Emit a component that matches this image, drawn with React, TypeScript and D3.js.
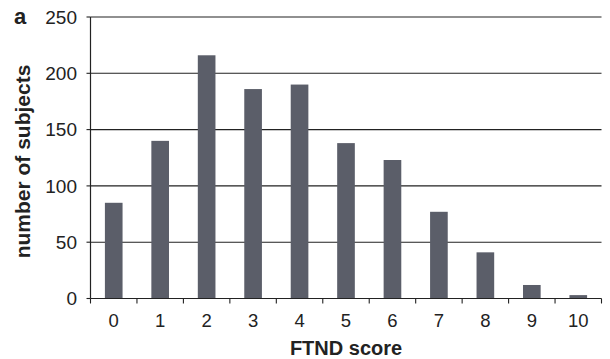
import React from "react";
import * as d3 from "d3";

// FTND score distribution
const scores: string[] = ["0", "1", "2", "3", "4", "5", "6", "7", "8", "9", "10"];
const subjects: number[] = [85, 140, 216, 186, 190, 138, 123, 77, 41, 12, 3];
const yTicks: number[] = [0, 50, 100, 150, 200, 250];

const W = 610;
const H = 359;
const margin = { left: 90.5, right: 8.5, top: 17, bottom: 60.5 };

export default function App() {
  const x = d3
    .scaleBand<string>()
    .domain(scores)
    .range([margin.left, W - margin.right])
    .paddingInner(0.62)
    .paddingOuter(0.31);
  const y = d3
    .scaleLinear()
    .domain([0, 250])
    .range([H - margin.bottom, margin.top]);

  const step = x.step();
  const boundaries = d3.range(scores.length + 1).map((i) => margin.left + i * step);
  const x0 = margin.left;
  const x1 = W - margin.right;
  const yBase = y(0);

  const font = "'Liberation Sans', Arial, Helvetica, sans-serif";
  const ink = "#222";

  return (
    <svg
      width={W}
      height={H}
      style={{ position: "absolute", left: 0, top: 0, background: "#fff" }}
      fontFamily={font}
    >
      {/* horizontal grid lines */}
      {yTicks
        .filter((t) => t > 0)
        .map((t) => (
          <line key={t} x1={x0} x2={x1} y1={y(t)} y2={y(t)} stroke={ink} strokeWidth={1.1} />
        ))}

      {/* bars */}
      {subjects.map((v, i) => (
        <rect
          key={scores[i]}
          x={x(scores[i])}
          y={y(v)}
          width={x.bandwidth()}
          height={yBase - y(v)}
          fill="#5b5e69"
        />
      ))}

      {/* y axis */}
      <line x1={x0} x2={x0} y1={y(250)} y2={yBase} stroke={ink} strokeWidth={1.2} />
      {yTicks.map((t) => (
        <g key={t}>
          <line x1={x0 - 4} x2={x0} y1={y(t)} y2={y(t)} stroke={ink} strokeWidth={1.1} />
          <text
            x={77}
            y={y(t)}
            dy="0.36em"
            textAnchor="end"
            fontSize={19}
            fill={ink}
          >
            {t}
          </text>
        </g>
      ))}

      {/* x axis */}
      <line x1={x0} x2={x1} y1={yBase} y2={yBase} stroke={ink} strokeWidth={1.2} />
      {boundaries.map((bx, i) => (
        <line key={i} x1={bx} x2={bx} y1={yBase} y2={yBase + 5} stroke={ink} strokeWidth={1.1} />
      ))}
      {scores.map((s) => (
        <text
          key={s}
          x={(x(s) as number) + x.bandwidth() / 2}
          y={327}
          textAnchor="middle"
          fontSize={18.5}
          fill={ink}
        >
          {s}
        </text>
      ))}

      {/* axis titles */}
      <text
        x={(x0 + x1) / 2}
        y={354.5}
        textAnchor="middle"
        fontSize={20}
        fontWeight="bold"
        fill={ink}
      >
        FTND score
      </text>
      <text
        transform={`translate(29.5, ${161.5}) rotate(-90)`}
        textAnchor="middle"
        fontSize={21}
        fontWeight="bold"
        fill={ink}
      >
        number of subjects
      </text>

      {/* panel letter */}
      <text x={14} y={24} fontSize={22} fontWeight="bold" fill={ink}>
        a
      </text>
    </svg>
  );
}
